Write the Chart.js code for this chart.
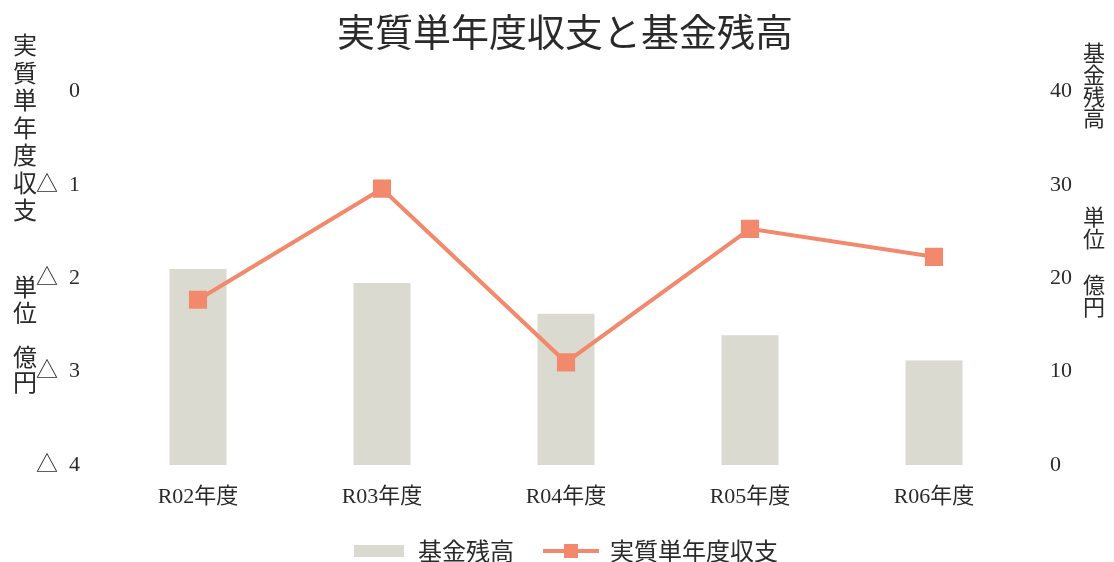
<!DOCTYPE html>
<html lang="ja">
<head>
<meta charset="utf-8">
<script src="https://cdn.jsdelivr.net/npm/chart.js@4"></script>
<style>
  html, body { margin: 0; padding: 0; background: #fff; }
  #wrap { width: 1114px; height: 562px; }
</style>
</head>
<body>
<div id="wrap"><canvas id="chart"></canvas></div>
<script>
// 年度
const years = ['R02年度', 'R03年度', 'R04年度', 'R05年度', 'R06年度'];
// 基金残高 (億円)
const fundBalance = [21.0, 19.5, 16.2, 13.9, 11.2];
// 実質単年度収支 (億円, マイナスは△表示)
const singleYearBalance = [-2.23, -1.04, -2.90, -1.47, -1.77];
// 目盛り
const leftTicks = [0, -1, -2, -3, -4];
const rightTicks = [0, 10, 20, 30, 40];

const barColor = '#dadad0';
const lineColor = '#f2896c';
const textColor = '#2a2a2a';
const jp = '"Noto Sans CJK JP", sans-serif';
const serif = '"Liberation Serif", "Noto Sans CJK JP", serif';

// legend icons
function barIcon() {
    const c = document.createElement('canvas');
    c.width = 50; c.height = 12;
    const g = c.getContext('2d');
    g.fillStyle = barColor;
    g.fillRect(0, 0, 50, 12);
    return c;
}
function lineIcon() {
    const c = document.createElement('canvas');
    c.width = 56; c.height = 16;
    const g = c.getContext('2d');
    g.strokeStyle = lineColor;
    g.lineWidth = 4;
    g.beginPath();
    g.moveTo(0, 8); g.lineTo(56, 8);
    g.stroke();
    g.fillStyle = lineColor;
    g.fillRect(21, 1, 14, 14);
    return c;
}

// vertical axis titles, one character per line
function drawColumn(ctx, text, x, y, step) {
    [...text].forEach((ch, i) => ctx.fillText(ch, x, y + i * step));
}
const sideTitles = {
    id: 'sideTitles',
    afterDraw(chart) {
        const ctx = chart.ctx;
        ctx.save();
        ctx.fillStyle = textColor;
        ctx.textAlign = 'center';
        ctx.textBaseline = 'middle';
        ctx.font = '24px ' + jp;
        drawColumn(ctx, '実質単年度収支', 25, 45, 27.5);
        drawColumn(ctx, '単位', 25, 287, 26);
        drawColumn(ctx, '億円', 25, 357, 25);
        ctx.font = '22px ' + jp;
        drawColumn(ctx, '基金残高', 1094, 53, 21.7);
        drawColumn(ctx, '単位', 1094, 217, 21.5);
        drawColumn(ctx, '億円', 1094, 285, 22);
        ctx.restore();
    }
};

const icons = [barIcon(), lineIcon()];

new Chart(document.getElementById('chart'), {
    data: {
        labels: years,
        datasets: [{
            type: 'line',
            label: '実質単年度収支',
            data: singleYearBalance,
            yAxisID: 'yLeft',
            borderColor: lineColor,
            backgroundColor: lineColor,
            borderWidth: 4,
            pointStyle: 'rect',
            pointRadius: 10,
            pointHoverRadius: 10,
            tension: 0,
            order: 1
        }, {
            type: 'bar',
            label: '基金残高',
            data: fundBalance,
            yAxisID: 'yRight',
            backgroundColor: barColor,
            barPercentage: 0.31,
            categoryPercentage: 1,
            order: 2
        }]
    },
    options: {
        responsive: true,
        maintainAspectRatio: false,
        animation: false,
        layout: {
            // title and legend sit a little right of the canvas centre
            padding: { left: 8, right: -8, top: 1, bottom: -11 }
        },
        plugins: {
            title: {
                display: true,
                text: '実質単年度収支と基金残高',
                color: textColor,
                font: { family: jp, size: 38, weight: 'normal' },
                padding: { top: 8, bottom: 37 }
            },
            legend: {
                position: 'bottom',
                labels: {
                    color: textColor,
                    font: { family: jp, size: 24 },
                    usePointStyle: true,
                    pointStyleWidth: 54,
                    padding: 30,
                    sort: (a, b) => b.datasetIndex - a.datasetIndex,
                    generateLabels(chart) {
                        return Chart.defaults.plugins.legend.labels.generateLabels(chart).map(item => {
                            item.pointStyle = icons[item.datasetIndex === 1 ? 0 : 1];
                            return item;
                        });
                    }
                }
            },
            tooltip: { enabled: false }
        },
        scales: {
            x: {
                grid: { display: false },
                border: { display: false },
                afterFit: scale => { scale.height = 44; },
                ticks: {
                    color: textColor,
                    font: { family: serif, size: 22 },
                    padding: 11
                }
            },
            yLeft: {
                position: 'left',
                min: -4,
                max: 0,
                grid: { display: false },
                border: { display: false },
                afterBuildTicks: scale => { scale.ticks = leftTicks.map(v => ({ value: v })); },
                afterFit: scale => { scale.width = 98; },
                ticks: {
                    color: textColor,
                    font: { family: serif, size: 22 },
                    padding: 18,
                    callback: v => v === 0 ? '0' : '△  ' + Math.abs(v)
                }
            },
            yRight: {
                position: 'right',
                min: 0,
                max: 40,
                grid: { display: false },
                border: { display: false },
                afterBuildTicks: scale => { scale.ticks = rightTicks.map(v => ({ value: v })); },
                afterFit: scale => { scale.width = 96; },
                ticks: {
                    color: textColor,
                    font: { family: serif, size: 22 },
                    padding: 16
                }
            }
        }
    },
    plugins: [sideTitles]
});
</script>
</body>
</html>
